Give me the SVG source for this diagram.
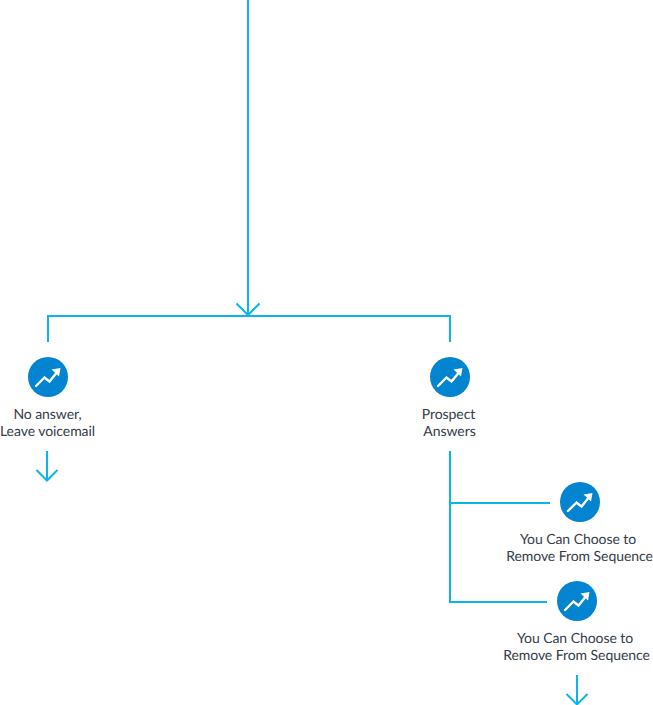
<svg xmlns="http://www.w3.org/2000/svg" width="653" height="705" viewBox="0 0 653 705">
<style>
.c{fill:none;stroke:#0bb5ea;stroke-width:2}
.b{fill:#0284d0}
.i{fill:none;stroke:#fff;stroke-width:2.4;stroke-linecap:round;stroke-linejoin:miter}
.h{fill:#fff}
text{font-family:Lato,"Open Sans",sans-serif;font-size:14px;letter-spacing:-0.06px;fill:#333c48;text-anchor:middle;text-rendering:geometricPrecision}
</style>
<defs>
<g id="icon">
<circle class="b" r="20"/>
<path class="i" d="M-12 9L-3.500 0.500L1.500 4.500L10 -6"/>
<path class="h" d="M3.500 -7.500L12.500 -9L11 -0.500Z"/>
</g>
</defs>
<rect width="653" height="705" fill="#fff"/>
<g id="connectors">
<path class="c" d="M248 0V316"/>
<path class="c" d="M236.500 303.500L248 315L259.500 303.500"/>
<path class="c" d="M48 342V316H450V342"/>
<path class="c" d="M47 451V480"/>
<path class="c" d="M36.500 470L47 480.500L57.500 470"/>
<path class="c" d="M450 451V602H547"/>
<path class="c" d="M450 503H550"/>
<path class="c" d="M577 675V704"/>
<path class="c" d="M566.500 694L577 704.500L587.500 694"/>
</g>
<g id="node-no-answer">
<use href="#icon" x="48" y="377"/>
<text x="47.500" y="419">No answer,</text>
<text x="47.500" y="436">Leave voicemail</text>
</g>
<g id="node-prospect-answers">
<use href="#icon" x="450" y="377"/>
<text x="448.500" y="419">Prospect</text>
<text x="449.500" y="436">Answers</text>
</g>
<g id="node-remove-1">
<use href="#icon" x="580" y="502"/>
<text x="578" y="544">You Can Choose to</text>
<text x="579.500" y="561">Remove From Sequence</text>
</g>
<g id="node-remove-2">
<use href="#icon" x="577" y="601"/>
<text x="575" y="643">You Can Choose to</text>
<text x="576.500" y="660">Remove From Sequence</text>
</g>
</svg>
